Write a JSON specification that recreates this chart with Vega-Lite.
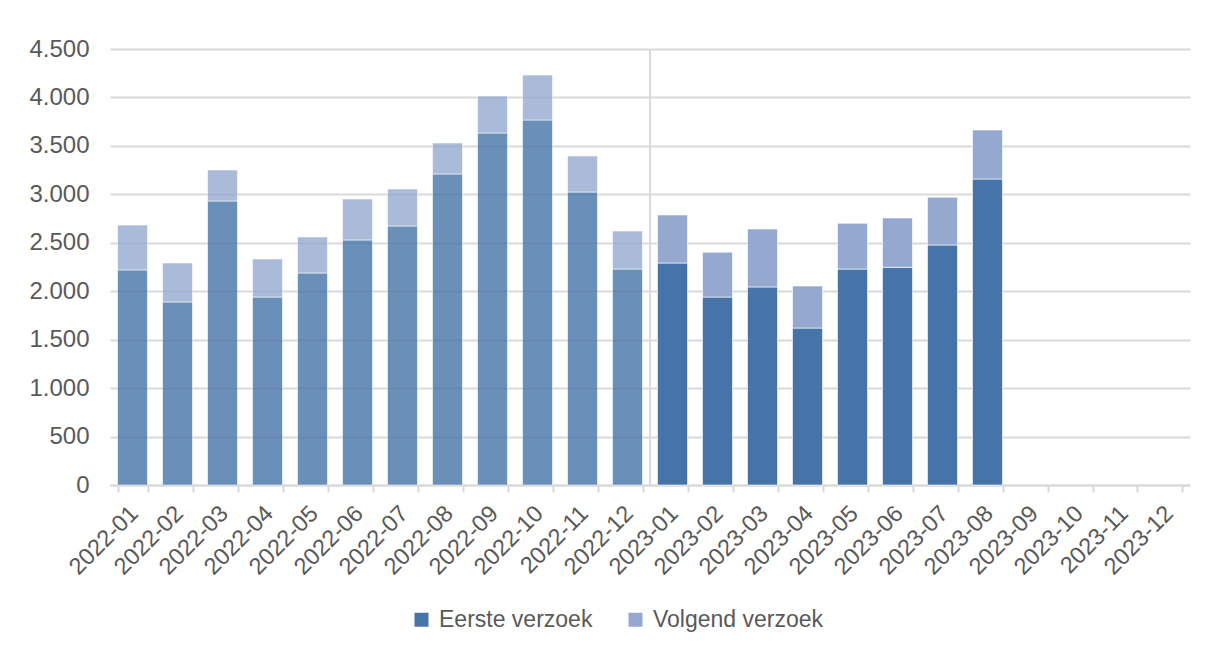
{
  "$schema": "https://vega.github.io/schema/vega-lite/v6.json",
  "autosize": "none",
  "width": 1080,
  "height": 436,
  "padding": {"left": 110, "top": 49, "right": 24, "bottom": 162},
  "background": "white",
  "config": {
    "view": {"stroke": null},
    "font": "Liberation Sans",
    "axis": {"labelFont": "Liberation Sans", "labelColor": "#595959", "titleColor": "#595959"},
    "legend": {"labelFont": "Liberation Sans", "labelColor": "#595959"}
  },
  "data": {
    "values": [
      {"maand": "2022-01", "serie": "Eerste verzoek", "waarde": 2220},
      {"maand": "2022-01", "serie": "Volgend verzoek", "waarde": 463},
      {"maand": "2022-02", "serie": "Eerste verzoek", "waarde": 1889},
      {"maand": "2022-02", "serie": "Volgend verzoek", "waarde": 402},
      {"maand": "2022-03", "serie": "Eerste verzoek", "waarde": 2931},
      {"maand": "2022-03", "serie": "Volgend verzoek", "waarde": 320},
      {"maand": "2022-04", "serie": "Eerste verzoek", "waarde": 1940},
      {"maand": "2022-04", "serie": "Volgend verzoek", "waarde": 393},
      {"maand": "2022-05", "serie": "Eerste verzoek", "waarde": 2188},
      {"maand": "2022-05", "serie": "Volgend verzoek", "waarde": 372},
      {"maand": "2022-06", "serie": "Eerste verzoek", "waarde": 2529},
      {"maand": "2022-06", "serie": "Volgend verzoek", "waarde": 423},
      {"maand": "2022-07", "serie": "Eerste verzoek", "waarde": 2673},
      {"maand": "2022-07", "serie": "Volgend verzoek", "waarde": 382},
      {"maand": "2022-08", "serie": "Eerste verzoek", "waarde": 3210},
      {"maand": "2022-08", "serie": "Volgend verzoek", "waarde": 320},
      {"maand": "2022-09", "serie": "Eerste verzoek", "waarde": 3633},
      {"maand": "2022-09", "serie": "Volgend verzoek", "waarde": 382},
      {"maand": "2022-10", "serie": "Eerste verzoek", "waarde": 3767},
      {"maand": "2022-10", "serie": "Volgend verzoek", "waarde": 464},
      {"maand": "2022-11", "serie": "Eerste verzoek", "waarde": 3024},
      {"maand": "2022-11", "serie": "Volgend verzoek", "waarde": 372},
      {"maand": "2022-12", "serie": "Eerste verzoek", "waarde": 2229},
      {"maand": "2022-12", "serie": "Volgend verzoek", "waarde": 392},
      {"maand": "2023-01", "serie": "Eerste verzoek", "waarde": 2291},
      {"maand": "2023-01", "serie": "Volgend verzoek", "waarde": 496},
      {"maand": "2023-02", "serie": "Eerste verzoek", "waarde": 1940},
      {"maand": "2023-02", "serie": "Volgend verzoek", "waarde": 462},
      {"maand": "2023-03", "serie": "Eerste verzoek", "waarde": 2044},
      {"maand": "2023-03", "serie": "Volgend verzoek", "waarde": 598},
      {"maand": "2023-04", "serie": "Eerste verzoek", "waarde": 1620},
      {"maand": "2023-04", "serie": "Volgend verzoek", "waarde": 434},
      {"maand": "2023-05", "serie": "Eerste verzoek", "waarde": 2229},
      {"maand": "2023-05", "serie": "Volgend verzoek", "waarde": 472},
      {"maand": "2023-06", "serie": "Eerste verzoek", "waarde": 2247},
      {"maand": "2023-06", "serie": "Volgend verzoek", "waarde": 509},
      {"maand": "2023-07", "serie": "Eerste verzoek", "waarde": 2477},
      {"maand": "2023-07", "serie": "Volgend verzoek", "waarde": 492},
      {"maand": "2023-08", "serie": "Eerste verzoek", "waarde": 3158},
      {"maand": "2023-08", "serie": "Volgend verzoek", "waarde": 506}
    ]
  },
  "layer": [
    {
      "mark": {"type": "bar", "stroke": "white", "strokeWidth": 0.6},
      "encoding": {
        "x": {
          "field": "maand",
          "type": "nominal",
          "scale": {
            "domain": ["2022-01","2022-02","2022-03","2022-04","2022-05","2022-06","2022-07","2022-08","2022-09","2022-10","2022-11","2022-12","2023-01","2023-02","2023-03","2023-04","2023-05","2023-06","2023-07","2023-08","2023-09","2023-10","2023-11","2023-12"],
            "paddingInner": 0.333,
            "paddingOuter": 0.1667
          },
          "axis": {
            "title": null,
            "labelAngle": -45,
            "labelFontSize": 23.5,
            "labelPadding": 9,
            "labelOffset": -7,
            "domainColor": "#d9d9d9",
            "domainWidth": 2,
            "tickColor": "#d9d9d9",
            "tickWidth": 2,
            "tickSize": 7,
            "tickBand": "extent",
            "grid": false
          }
        },
        "y": {
          "field": "waarde",
          "type": "quantitative",
          "stack": "zero",
          "scale": {"domain": [0, 4500], "nice": false},
          "axis": {
            "title": null,
            "values": [0,500,1000,1500,2000,2500,3000,3500,4000,4500],
            "labelExpr": "replace(format(datum.value, ','), ',', '.')",
            "labelFontSize": 24,
            "labelPadding": 21,
            "ticks": false,
            "tickSize": 0,
            "domain": false,
            "grid": true,
            "gridColor": "#d9d9d9",
            "gridWidth": 2
          }
        },
        "color": {
          "field": "serie",
          "type": "nominal",
          "scale": {"domain": ["Eerste verzoek", "Volgend verzoek"], "range": ["#4674a8", "#95a9d0"]},
          "legend": {
            "title": null,
            "orient": "none",
            "direction": "horizontal",
            "legendX": 300,
            "legendY": 559,
            "labelFontSize": 23,
            "labelLimit": 400,
            "symbolType": "square",
            "symbolSize": 196,
            "symbolStrokeWidth": 0,
            "labelOffset": 6,
            "columnPadding": 31
          }
        },
        "order": {"field": "serie", "sort": "ascending"},
        "opacity": {"condition": {"test": "datum.maand < '2023'", "value": 0.8}, "value": 1}
      }
    },
    {
      "mark": {"type": "rule", "color": "#d9d9d9", "strokeWidth": 2, "xOffset": -7.5},
      "encoding": {
        "x": {"datum": "2023-01", "bandPosition": 0},
        "y": {"datum": 0},
        "y2": {"datum": 4500}
      }
    }
  ]
}
